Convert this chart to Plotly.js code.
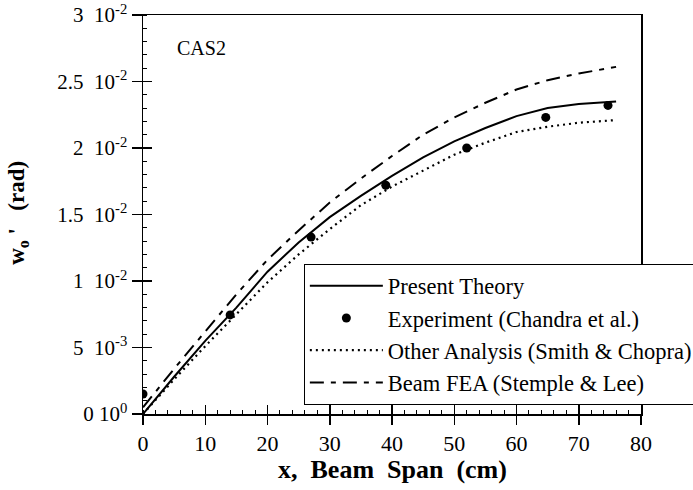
<!DOCTYPE html>
<html>
<head>
<meta charset="utf-8">
<script src="https://cdn.plot.ly/plotly-3.0.1.min.js"></script>
<style>html,body{margin:0;padding:0;background:#fff;}#chart{width:693px;height:490px;}</style>
</head>
<body>
<div id="chart"></div>
<script>
// Curve sample positions (cm)
const xCurve = [0, 5, 10, 15, 20, 25, 30, 35, 40, 45, 50, 55, 60, 65, 70, 76];
// Present Theory
const presentTheory = [0, 0.0028, 0.0055, 0.0080, 0.0107, 0.0129, 0.0148, 0.0164, 0.0179, 0.0193, 0.0205, 0.0215, 0.0224, 0.0230, 0.0233, 0.0235];
// Other Analysis (Smith & Chopra)
const otherAnalysis = [0, 0.0026, 0.0051, 0.0075, 0.0099, 0.0120, 0.0139, 0.0157, 0.0171, 0.0183, 0.0195, 0.0204, 0.0212, 0.0216, 0.0219, 0.0221];
// Beam FEA (Stemple & Lee)
const beamFEA = [0.0005, 0.0034, 0.0062, 0.0090, 0.0116, 0.0138, 0.0159, 0.0177, 0.0194, 0.0210, 0.0223, 0.0234, 0.0244, 0.0251, 0.0256, 0.0261];
// Experiment (Chandra et al.)
const xExp = [0, 14, 27, 39, 52, 64.7, 74.7];
const yExp = [0.0015, 0.00745, 0.0133, 0.0172, 0.0200, 0.0223, 0.0232];

const yTickVals = [0, 0.005, 0.01, 0.015, 0.02, 0.025, 0.03];
const yTickText = ['0 10<sup>0</sup>', '5\u00a0\u00a010<sup>-3</sup>', '1\u00a0\u00a010<sup>-2</sup>', '1.5\u00a0\u00a010<sup>-2</sup>', '2\u00a0\u00a010<sup>-2</sup>', '2.5\u00a0\u00a010<sup>-2</sup>', '3\u00a0\u00a010<sup>-2</sup>'];
const xTickVals = [0, 10, 20, 30, 40, 50, 60, 70, 80];

const serif = 'Liberation Serif, Times New Roman, serif';

const traces = [
  {x: xCurve, y: presentTheory, mode: 'lines', name: 'Present Theory',
   line: {color: '#000', width: 2}},
  {x: xExp, y: yExp, mode: 'markers', name: 'Experiment (Chandra et al.)',
   marker: {color: '#000', size: 9, symbol: 'circle'}},
  {x: xCurve, y: otherAnalysis, mode: 'lines', name: 'Other Analysis (Smith & Chopra)',
   line: {color: '#000', width: 2.2, dash: '2px,4px'}},
  {x: xCurve, y: beamFEA, mode: 'lines', name: 'Beam FEA (Stemple & Lee)',
   line: {color: '#000', width: 2, dash: '14px,7px,5px,7px'}}
];

const layout = {
  width: 693, height: 490,
  margin: {l: 143, r: 52, t: 15, b: 76, autoexpand: false},
  paper_bgcolor: '#fff', plot_bgcolor: '#fff',
  font: {family: serif, color: '#000', size: 20},
  showlegend: true,
  legend: {
    x: 0.323, xanchor: 'left', y: 0.377, yanchor: 'top',
    bgcolor: '#fff', bordercolor: '#000', borderwidth: 1,
    font: {family: serif, size: 22.5, color: '#000'},
    itemwidth: 73, tracegroupgap: 0
  },
  xaxis: {
    range: [0, 80], tickvals: xTickVals, ticktext: xTickVals.map(String),
    showgrid: false, zeroline: false,
    showline: true, linecolor: '#000', linewidth: 1.5, mirror: true,
    ticks: 'outside', ticklen: 9, tickwidth: 1.5, tickcolor: '#000',
    minor: {dtick: 2, ticks: 'inside', ticklen: 4, tickwidth: 1, tickcolor: '#000', showgrid: false},
    tickfont: {family: serif, size: 22, color: '#000'}
  },
  yaxis: {
    range: [0, 0.03], tickvals: yTickVals, ticktext: yTickText,
    showgrid: false, zeroline: false,
    showline: true, linecolor: '#000', linewidth: 1.5, mirror: true,
    ticks: 'outside', ticklen: 10, tickwidth: 1.5, tickcolor: '#000',
    minor: {dtick: 0.001, ticks: 'inside', ticklen: 4, tickwidth: 1, tickcolor: '#000', showgrid: false},
    tickfont: {family: serif, size: 21, color: '#000'}
  },
  xaxis2: {
    overlaying: 'x', anchor: 'y', range: [0, 80], tickvals: xTickVals,
    showticklabels: false, showgrid: false, zeroline: false, showline: false,
    ticks: 'inside', ticklen: 9, tickwidth: 1.5, tickcolor: '#000'
  },
  yaxis2: {
    overlaying: 'y', anchor: 'x', side: 'left', range: [0, 0.03], tickvals: yTickVals,
    showticklabels: false, showgrid: false, zeroline: false, showline: false,
    ticks: 'inside', ticklen: 9, tickwidth: 1.5, tickcolor: '#000'
  },
  annotations: [
    {text: 'CAS2', x: 0.064, y: 0.918, xref: 'paper', yref: 'paper', xanchor: 'left', yanchor: 'middle',
     showarrow: false, font: {family: serif, size: 20, color: '#000'}},
    {text: "<b>w<sub>o</sub> '\u00a0\u00a0\u00a0(rad)</b>", x: -0.25, y: 0.503, xref: 'paper', yref: 'paper',
     xanchor: 'center', yanchor: 'middle', textangle: -90,
     showarrow: false, font: {family: serif, size: 23, color: '#000'}},
    {text: '<b>x,\u00a0\u00a0Beam\u00a0\u00a0Span\u00a0\u00a0(cm)</b>', x: 0.5, y: -0.138, xref: 'paper', yref: 'paper',
     xanchor: 'center', yanchor: 'middle',
     showarrow: false, font: {family: serif, size: 26, color: '#000'}}
  ]
};

// invisible helper trace so the overlay axes (inner halves of the major ticks) are drawn
traces.push({x: [0], y: [0], xaxis: 'x2', yaxis: 'y2', mode: 'markers',
  marker: {opacity: 0}, showlegend: false, hoverinfo: 'skip'});

Plotly.newPlot('chart', traces, layout, {displayModeBar: false, staticPlot: true});
</script>
</body>
</html>
